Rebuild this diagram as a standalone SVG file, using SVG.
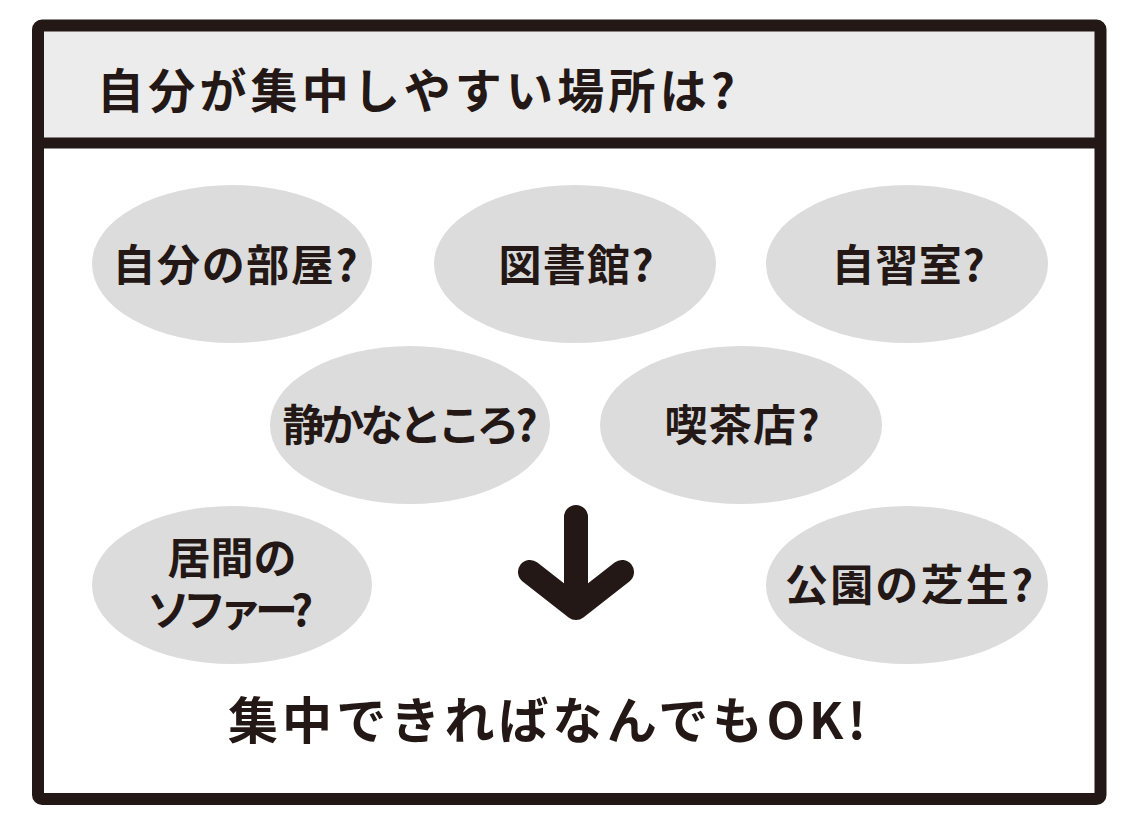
<svg xmlns="http://www.w3.org/2000/svg" width="1131" height="831" viewBox="0 0 1131 831">
<style>
.t{font-family:"Noto Sans CJK JP","Noto Sans CJK SC",sans-serif;font-weight:700;fill:#231815;text-anchor:middle}
.e{fill:#dcdcdc}
.lbl{font-size:43px}
</style>
<rect width="1131" height="831" fill="#ffffff"/>
<rect x="38" y="25.5" width="1062.5" height="118" fill="#ececec"/>
<g id="frame">
<rect x="38" y="25.5" width="1062.5" height="773.5" rx="4" fill="none" stroke="#231815" stroke-width="12"/>
<line x1="38" y1="143" x2="1100.5" y2="143" stroke="#231815" stroke-width="11"/>
</g>
<g id="title"><text class="t" x="416" y="108" font-size="47" textLength="638" lengthAdjust="spacing">自分が集中しやすい場所は?</text></g>
<g id="n1"><ellipse class="e" cx="232" cy="264" rx="140" ry="79"/><text class="t lbl" x="235" y="281" textLength="245" lengthAdjust="spacing">自分の部屋?</text></g>
<g id="n2"><ellipse class="e" cx="575" cy="264" rx="141" ry="79"/><text class="t lbl" x="576" y="281" textLength="155" lengthAdjust="spacing">図書館?</text></g>
<g id="n3"><ellipse class="e" cx="907" cy="264" rx="141" ry="79"/><text class="t lbl" x="908" y="281" textLength="153" lengthAdjust="spacing">自習室?</text></g>
<g id="n4"><ellipse class="e" cx="410" cy="425" rx="140" ry="79"/><text class="t lbl" x="410" y="441" textLength="255" lengthAdjust="spacing">静かなところ?</text></g>
<g id="n5"><ellipse class="e" cx="741" cy="425" rx="141" ry="79"/><text class="t lbl" x="742" y="441" textLength="155" lengthAdjust="spacing">喫茶店?</text></g>
<g id="n6"><ellipse class="e" cx="232" cy="585" rx="140" ry="79"/><text class="t lbl" x="232" y="574" textLength="129" lengthAdjust="spacing">居間の</text><text class="t lbl" x="230" y="626" textLength="166" lengthAdjust="spacing">ソファー?</text></g>
<g id="n7"><ellipse class="e" cx="907" cy="585" rx="141" ry="79"/><text class="t lbl" x="909" y="601" textLength="248" lengthAdjust="spacing">公園の芝生?</text></g>
<g id="connectors">
<path d="M576 517 V600 M530 572 L576 608 L622 572" fill="none" stroke="#231815" stroke-width="24" stroke-linecap="round" stroke-linejoin="round"/>
</g>
<g id="result"><text class="t" x="547" y="739" font-size="50" textLength="638" lengthAdjust="spacing">集中できればなんでもOK!</text></g>
</svg>
